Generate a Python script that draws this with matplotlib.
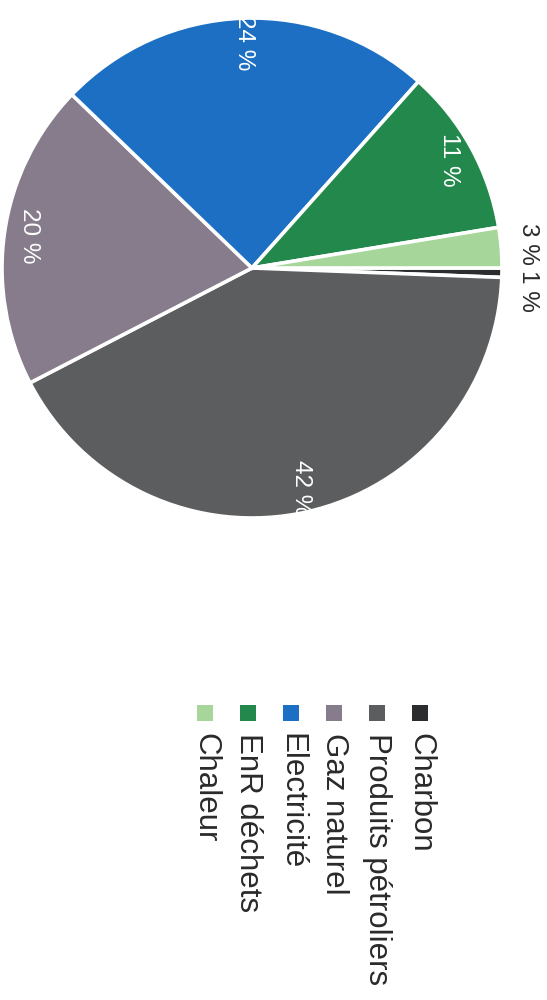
import matplotlib
matplotlib.use("Agg")
import matplotlib.pyplot as plt

plt.rcParams['font.family'] = ['Liberation Sans', 'DejaVu Sans']

# Data (legend order)
labels = ["Charbon", "Produits pétroliers", "Gaz naturel", "Electricité", "EnR déchets", "Chaleur"]
values = [0.6, 41.8, 19.8, 24.4, 10.8, 2.6]
colors = ["#2b2d2f", "#5b5d5e", "#867c8b", "#1c6fc3", "#22884c", "#a6d699"]
outside_labels = ["Charbon", "Chaleur"]

W, H = 547, 1000
fig = plt.figure(figsize=(W / 100, H / 100), dpi=100)
ax = fig.add_axes([0, 0, 1, 1])

R = 250.0          # pixel radius
cx, cy = 252, 268  # pixel centre (from top-left)

wedges, texts, autotexts = ax.pie(
    values, colors=colors, startangle=0, counterclock=False,
    autopct=lambda p: f"{p:.0f} %", pctdistance=0.9,
    wedgeprops=dict(edgecolor="white", linewidth=2.6),
    textprops=dict(fontsize=17.5, color="white", rotation=270),
)
for t in autotexts:
    t.set_rotation(270)
    t.set_ha("center")
    t.set_va("center")

# small slices: labels outside the pie
outside_pos = {"Chaleur": (1.105, 0.095), "Charbon": (1.105, -0.09)}
for lab, t in zip(labels, autotexts):
    if lab in outside_labels:
        t.set_position(outside_pos[lab])
        t.set_color("#2a2a2a")

ax.set_aspect("auto")
ax.set_xlim(-cx / R, (W - cx) / R)
ax.set_ylim((cy - H) / R, cy / R)
ax.axis("off")

# Legend (rotated, drawn manually)
def to_data(px, py):
    return (px - cx) / R, (cy - py) / R

x0_px, step_px = 420, -43
marker_y_px, text_top_px = 713, 733
for i, (lab, col) in enumerate(zip(labels, colors)):
    px = x0_px + i * step_px
    mx, my = to_data(px, marker_y_px)
    ax.scatter([mx], [my], marker="s", s=125, color=col, linewidths=0)
    tx, ty = to_data(px, text_top_px)
    ax.text(tx, ty, lab, rotation=270, ha="center", va="top",
            fontsize=22.5, color="#2a2a2a")

fig.savefig("out.png", dpi=100, facecolor="white")
